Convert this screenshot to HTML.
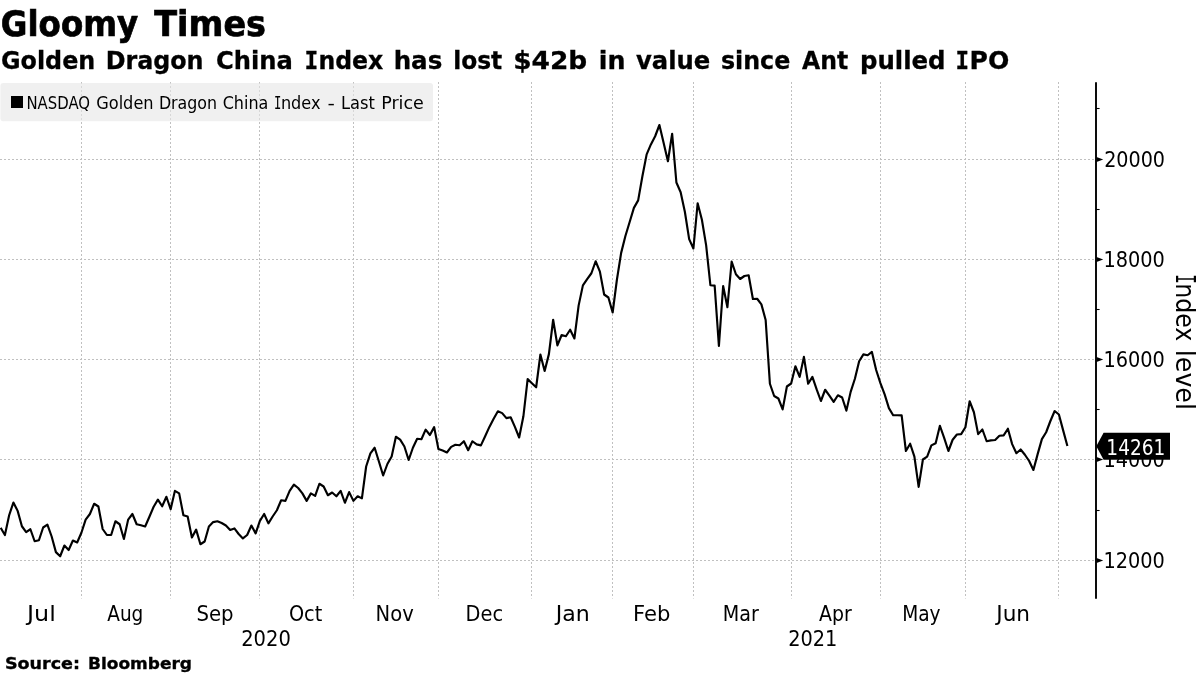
<!DOCTYPE html>
<html lang="en"><head><meta charset="utf-8"><title>Gloomy Times</title>
<style>html,body{margin:0;padding:0;background:#fff;}body{width:1200px;height:675px;overflow:hidden;}svg{display:block;}.c{font-family:"DejaVu Sans Condensed", "DejaVu Sans", "Liberation Sans", sans-serif;font-stretch:condensed;fill:#000;}.b{font-family:"DejaVu Sans", "Liberation Sans", sans-serif;font-weight:700;fill:#000;}.m{font-family:"DejaVu Sans Mono","Liberation Mono",monospace;font-stretch:normal;}</style></head><body>
<svg width="1200" height="675" viewBox="0 0 1200 675">
<rect width="1200" height="675" fill="#fff"/>
<g stroke="#c0c0c0" stroke-width="1" stroke-dasharray="2 2" fill="none">
<line x1="81.5" y1="82" x2="81.5" y2="598.5"/>
<line x1="170.5" y1="82" x2="170.5" y2="598.5"/>
<line x1="259.5" y1="82" x2="259.5" y2="598.5"/>
<line x1="353.5" y1="82" x2="353.5" y2="598.5"/>
<line x1="438.5" y1="82" x2="438.5" y2="598.5"/>
<line x1="531.5" y1="82" x2="531.5" y2="598.5"/>
<line x1="612.5" y1="82" x2="612.5" y2="598.5"/>
<line x1="693.5" y1="82" x2="693.5" y2="598.5"/>
<line x1="791.5" y1="82" x2="791.5" y2="598.5"/>
<line x1="880.5" y1="82" x2="880.5" y2="598.5"/>
<line x1="965.5" y1="82" x2="965.5" y2="598.5"/>
<line x1="1058.5" y1="82" x2="1058.5" y2="598.5"/>
<line x1="0" y1="560.5" x2="1096" y2="560.5"/>
<line x1="0" y1="459.5" x2="1096" y2="459.5"/>
<line x1="0" y1="359.5" x2="1096" y2="359.5"/>
<line x1="0" y1="259.5" x2="1096" y2="259.5"/>
<line x1="0" y1="159.5" x2="1096" y2="159.5"/>
</g>
<rect x="0.4" y="83" width="432.6" height="38.2" rx="3" ry="3" fill="#e6e6e6" fill-opacity="0.6"/>
<rect x="11" y="96" width="12" height="12" fill="#000"/>
<polyline points="0.65,527.75 4.90,535.00 9.15,515.25 13.40,502.50 17.65,510.88 21.90,526.25 26.15,532.12 30.40,529.25 34.65,541.25 38.90,540.25 43.15,527.50 47.40,524.62 51.65,536.50 55.90,552.12 60.15,556.25 64.40,545.50 68.65,550.00 72.90,540.50 77.15,542.50 81.40,532.75 85.65,519.62 89.90,514.00 94.15,503.75 98.40,506.50 102.65,529.00 106.90,535.00 111.15,535.00 115.40,521.25 119.65,524.25 123.90,539.00 128.15,519.62 132.40,514.00 136.65,524.25 140.90,525.25 145.15,526.50 149.40,516.75 153.65,506.75 157.90,499.62 162.15,506.25 166.40,496.75 170.65,509.25 174.90,490.88 179.15,493.38 183.40,515.25 187.65,516.50 191.90,537.50 196.15,529.62 200.40,544.25 204.65,541.50 208.90,526.50 213.15,522.12 217.40,521.25 221.65,523.00 225.90,525.50 230.15,530.00 234.40,528.38 238.65,534.00 242.90,538.38 247.15,535.00 251.40,525.50 255.65,533.38 259.90,520.88 264.15,514.00 268.40,523.38 272.65,516.50 276.90,510.25 281.15,500.25 285.40,500.88 289.65,490.88 293.90,484.62 298.15,488.00 302.40,493.38 306.65,500.88 310.90,493.38 315.15,495.88 319.40,483.75 323.65,486.50 327.90,495.25 332.15,492.50 336.40,496.25 340.65,490.88 344.90,502.75 349.15,492.12 353.40,500.88 357.65,496.25 361.90,498.38 366.15,466.50 370.40,453.38 374.65,447.75 378.90,461.50 383.15,475.50 387.40,464.00 391.65,456.50 395.90,436.75 400.15,439.62 404.40,446.50 408.65,460.00 412.90,447.75 417.15,438.75 421.40,439.25 425.65,429.62 429.90,435.00 434.15,427.12 438.40,449.00 442.65,450.50 446.90,452.50 451.15,446.88 455.40,444.75 459.65,445.25 463.90,441.25 468.15,450.25 472.40,441.25 476.65,444.38 480.90,445.38 485.15,436.25 489.40,426.88 493.65,418.75 497.90,411.25 502.15,413.12 506.40,418.12 510.65,417.25 514.90,426.88 519.15,437.50 523.40,416.25 527.65,379.12 531.90,383.25 536.15,387.25 540.40,354.50 544.65,371.00 548.90,354.12 553.15,319.75 557.40,345.38 561.65,335.00 565.90,336.25 570.15,329.75 574.40,338.50 578.65,305.38 582.90,285.38 587.15,279.12 591.40,273.25 595.65,261.25 599.90,271.62 604.15,294.50 608.40,297.50 612.65,312.50 616.90,279.75 621.15,252.88 625.40,236.00 629.65,222.00 633.90,207.88 638.15,200.38 642.40,176.25 646.65,154.38 650.90,144.38 655.15,136.25 659.40,125.00 663.65,143.12 667.90,161.25 672.15,133.75 676.40,182.50 680.65,192.25 684.90,212.00 689.15,239.12 693.40,248.50 697.65,203.25 701.90,219.75 706.15,245.38 710.40,285.25 714.65,285.62 718.90,346.00 723.15,286.00 727.40,307.25 731.65,261.62 735.90,274.25 740.15,279.00 744.40,276.00 748.65,275.25 752.90,299.00 757.15,298.75 761.40,304.38 765.65,320.00 769.90,383.75 774.15,396.00 778.40,398.50 782.65,409.38 786.90,386.50 791.15,383.50 795.40,366.25 799.65,376.88 803.90,356.88 808.15,383.75 812.40,376.88 816.65,389.38 820.90,401.00 825.15,389.75 829.40,395.62 833.65,401.88 837.90,395.25 842.15,397.50 846.40,410.62 850.65,391.88 854.90,378.75 859.15,361.25 863.40,354.38 867.65,355.25 871.90,351.88 876.15,370.00 880.40,383.12 884.65,394.38 888.90,408.12 893.15,415.25 897.40,415.25 901.65,415.38 905.90,451.00 910.15,443.75 914.40,456.62 918.65,486.88 922.90,459.50 927.15,456.62 931.40,445.38 935.65,443.25 939.90,425.75 944.15,437.88 948.40,451.00 952.65,439.75 956.90,434.50 961.15,434.12 965.40,427.25 969.65,401.25 973.90,412.25 978.15,434.12 982.40,429.50 986.65,441.25 990.90,440.38 995.15,440.00 999.40,435.75 1003.65,435.38 1007.90,428.75 1012.15,444.12 1016.40,453.25 1020.65,449.50 1024.90,454.75 1029.15,461.00 1033.40,470.00 1037.65,454.12 1041.90,439.12 1046.15,432.25 1050.40,421.00 1054.65,411.00 1058.90,414.50 1063.15,430.38 1067.40,446.00" fill="none" stroke="#000" stroke-width="2.15" stroke-linejoin="round" stroke-linecap="butt"/>
<line x1="1096" y1="82.2" x2="1096" y2="598.7" stroke="#000" stroke-width="1.9"/>
<line x1="1096" y1="510.5" x2="1099.6" y2="510.5" stroke="#000" stroke-width="1.1"/>
<line x1="1096" y1="409.5" x2="1099.6" y2="409.5" stroke="#000" stroke-width="1.1"/>
<line x1="1096" y1="309.5" x2="1099.6" y2="309.5" stroke="#000" stroke-width="1.1"/>
<line x1="1096" y1="209.5" x2="1099.6" y2="209.5" stroke="#000" stroke-width="1.1"/>
<line x1="1096" y1="108.5" x2="1099.6" y2="108.5" stroke="#000" stroke-width="1.1"/>
<path d="M1096.5 557.9 L1103.2 560.5 L1096.5 563.1 Z" fill="#000"/>
<path d="M1096.5 456.9 L1103.2 459.5 L1096.5 462.1 Z" fill="#000"/>
<path d="M1096.5 356.9 L1103.2 359.5 L1096.5 362.1 Z" fill="#000"/>
<path d="M1096.5 256.9 L1103.2 259.5 L1096.5 262.1 Z" fill="#000"/>
<path d="M1096.5 156.9 L1103.2 159.5 L1096.5 162.1 Z" fill="#000"/>
<path d="M1096.3 446.3 L1103.6 432.8 L1170 432.8 L1170 459.8 L1103.6 459.8 Z" fill="#000"/>
<text class="b" font-size="35" y="36.3" stroke="#000" stroke-width="0.7"><tspan id="t1_0" x="0.83" textLength="137.43" lengthAdjust="spacingAndGlyphs">Gloomy</tspan> <tspan id="t1_1" x="154.25" textLength="111.80" lengthAdjust="spacingAndGlyphs">Times</tspan></text>
<text class="b" font-size="25" y="68.8" stroke="#000" stroke-width="0.3"><tspan id="t2_0" x="0.97" textLength="94.32" lengthAdjust="spacingAndGlyphs">Golden</tspan> <tspan id="t2_1" x="105.69" textLength="97.87" lengthAdjust="spacingAndGlyphs">Dragon</tspan> <tspan id="t2_2" x="215.97" textLength="76.84" lengthAdjust="spacingAndGlyphs">China</tspan> <tspan id="t2_3" class="m" x="304.38" textLength="13.80" lengthAdjust="spacingAndGlyphs">I</tspan><tspan id="t2_4" x="318.46" textLength="64.79" lengthAdjust="spacingAndGlyphs">ndex</tspan> <tspan id="t2_5" x="393.64" textLength="48.68" lengthAdjust="spacingAndGlyphs">has</tspan> <tspan id="t2_6" x="453.18" textLength="49.08" lengthAdjust="spacingAndGlyphs">lost</tspan> <tspan id="t2_7" x="513.18" textLength="74.11" lengthAdjust="spacingAndGlyphs">$42b</tspan> <tspan id="t2_8" x="598.78" textLength="26.69" lengthAdjust="spacingAndGlyphs">in</tspan> <tspan id="t2_9" x="636.00" textLength="74.27" lengthAdjust="spacingAndGlyphs">value</tspan> <tspan id="t2_10" x="720.97" textLength="69.30" lengthAdjust="spacingAndGlyphs">since</tspan> <tspan id="t2_11" x="802.00" textLength="46.25" lengthAdjust="spacingAndGlyphs">Ant</tspan> <tspan id="t2_12" x="859.92" textLength="85.66" lengthAdjust="spacingAndGlyphs">pulled</tspan> <tspan id="t2_13" class="m" x="955.38" textLength="13.58" lengthAdjust="spacingAndGlyphs">I</tspan><tspan id="t2_14" x="969.59" textLength="39.75" lengthAdjust="spacingAndGlyphs">PO</tspan></text>
<text class="c" font-size="17" y="108.7" ><tspan id="lg_0" x="26.45" textLength="63.57" lengthAdjust="spacingAndGlyphs">NASDAQ</tspan> <tspan id="lg_1" x="96.22" textLength="57.35" lengthAdjust="spacingAndGlyphs">Golden</tspan> <tspan id="lg_2" x="158.94" textLength="58.10" lengthAdjust="spacingAndGlyphs">Dragon</tspan> <tspan id="lg_3" x="222.71" textLength="45.63" lengthAdjust="spacingAndGlyphs">China</tspan> <tspan id="lg_4" class="m" x="273.96" textLength="7.35" lengthAdjust="spacingAndGlyphs">I</tspan><tspan id="lg_5" x="280.92" textLength="39.60" lengthAdjust="spacingAndGlyphs">ndex</tspan> <tspan id="lg_6" x="327.55" textLength="7.39" lengthAdjust="spacingAndGlyphs">-</tspan> <tspan id="lg_7" x="340.96" textLength="33.85" lengthAdjust="spacingAndGlyphs">Last</tspan> <tspan id="lg_8" x="381.20" textLength="42.65" lengthAdjust="spacingAndGlyphs">Price</tspan></text>
<text class="c" font-size="21" y="620.7" ><tspan id="mo_0" x="27.03" textLength="28.77" lengthAdjust="spacingAndGlyphs">Jul</tspan> <tspan id="mo_1" x="107.25" textLength="36.08" lengthAdjust="spacingAndGlyphs">Aug</tspan> <tspan id="mo_2" x="196.42" textLength="37.13" lengthAdjust="spacingAndGlyphs">Sep</tspan> <tspan id="mo_3" x="288.96" textLength="33.30" lengthAdjust="spacingAndGlyphs">Oct</tspan> <tspan id="mo_4" x="375.63" textLength="38.15" lengthAdjust="spacingAndGlyphs">Nov</tspan> <tspan id="mo_5" x="465.60" textLength="37.49" lengthAdjust="spacingAndGlyphs">Dec</tspan> <tspan id="mo_6" x="555.77" textLength="34.01" lengthAdjust="spacingAndGlyphs">Jan</tspan> <tspan id="mo_7" x="633.10" textLength="37.24" lengthAdjust="spacingAndGlyphs">Feb</tspan> <tspan id="mo_8" x="722.66" textLength="36.09" lengthAdjust="spacingAndGlyphs">Mar</tspan> <tspan id="mo_9" x="819.00" textLength="32.75" lengthAdjust="spacingAndGlyphs">Apr</tspan> <tspan id="mo_10" x="902.16" textLength="38.41" lengthAdjust="spacingAndGlyphs">May</tspan> <tspan id="mo_11" x="996.27" textLength="33.76" lengthAdjust="spacingAndGlyphs">Jun</tspan></text>
<text class="c" font-size="21" y="645.7" ><tspan id="yr_0" x="241.18" textLength="49.64" lengthAdjust="spacingAndGlyphs">2020</tspan> <tspan id="yr_1" x="788.17" textLength="49.17" lengthAdjust="spacingAndGlyphs">2021</tspan></text>
<text class="b" font-size="16.5" y="669.2" stroke="#000" stroke-width="0.35"><tspan id="src_0" x="4.96" textLength="75.08" lengthAdjust="spacingAndGlyphs">Source:</tspan> <tspan id="src_1" x="87.97" textLength="104.06" lengthAdjust="spacingAndGlyphs">Bloomberg</tspan></text>
<text class="c" font-size="21" y="568.2" ><tspan id="y12000_0" x="1103.42" textLength="61.41" lengthAdjust="spacingAndGlyphs">12000</tspan></text>
<text class="c" font-size="21" y="467.2" ><tspan id="y14000_0" x="1103.42" textLength="61.41" lengthAdjust="spacingAndGlyphs">14000</tspan></text>
<text class="c" font-size="21" y="367.2" ><tspan id="y16000_0" x="1103.42" textLength="61.41" lengthAdjust="spacingAndGlyphs">16000</tspan></text>
<text class="c" font-size="21" y="267.2" ><tspan id="y18000_0" x="1103.42" textLength="61.41" lengthAdjust="spacingAndGlyphs">18000</tspan></text>
<text class="c" font-size="21" y="167.2" ><tspan id="y20000_0" x="1104.19" textLength="60.83" lengthAdjust="spacingAndGlyphs">20000</tspan></text>
<text class="c" font-size="21" y="454.8" style="fill:#fff"><tspan id="tag_0" x="1106.37" textLength="58.94" lengthAdjust="spacingAndGlyphs">14261</tspan></text>
<text class="c" transform="translate(1175.8 0) rotate(90)" font-size="26.5" y="0" ><tspan id="rot_0" class="m" x="274.32" textLength="9.61" lengthAdjust="spacingAndGlyphs">I</tspan><tspan id="rot_1" x="283.17" textLength="58.15" lengthAdjust="spacingAndGlyphs">ndex</tspan> <tspan id="rot_2" x="349.83" textLength="60.08" lengthAdjust="spacingAndGlyphs">level</tspan></text>
</svg></body></html>
